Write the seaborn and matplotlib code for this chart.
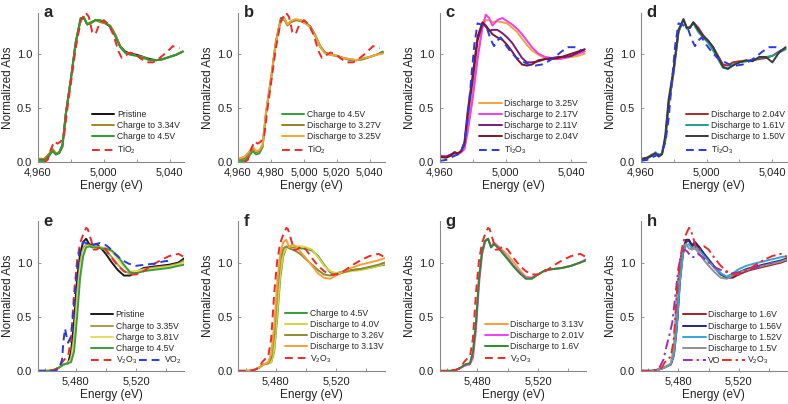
import numpy as np
import pandas as pd
import seaborn as sns
import matplotlib.pyplot as plt
from matplotlib.ticker import FuncFormatter, MultipleLocator

# ---- Ti K-edge (top row) ----
E_TI = [4960, 4964, 4967, 4969, 4971, 4973, 4975, 4977, 4980, 4983, 4986, 4988, 4990, 4992, 4995,
        4998, 5001, 5004, 5007, 5010, 5013, 5016, 5020, 5024, 5028, 5032, 5036, 5040, 5044, 5048]

a_pristine = [0.02, 0.02, 0.07, 0.11, 0.07, 0.09, 0.16, 0.45, 0.76, 1.10, 1.32, 1.33, 1.27, 1.28, 1.31,
              1.30, 1.28, 1.25, 1.17, 1.07, 1.02, 1.00, 0.99, 0.97, 0.95, 0.94, 0.95, 0.97, 0.99, 1.02]
a_334 = [0.03, 0.03, 0.08, 0.12, 0.08, 0.09, 0.15, 0.44, 0.75, 1.09, 1.31, 1.34, 1.27, 1.28, 1.31,
         1.29, 1.28, 1.26, 1.18, 1.07, 1.01, 1.00, 0.98, 0.97, 0.94, 0.94, 0.95, 0.97, 0.99, 1.02]
a_45 = [0.01, 0.01, 0.06, 0.10, 0.07, 0.08, 0.14, 0.44, 0.76, 1.11, 1.33, 1.33, 1.27, 1.29, 1.31,
        1.31, 1.29, 1.25, 1.16, 1.06, 1.01, 0.99, 0.98, 0.96, 0.94, 0.94, 0.95, 0.97, 0.99, 1.02]

b_327 = [0.02, 0.03, 0.09, 0.12, 0.09, 0.10, 0.16, 0.45, 0.76, 1.10, 1.30, 1.32, 1.26, 1.29, 1.31,
         1.30, 1.28, 1.25, 1.17, 1.07, 1.01, 0.99, 0.98, 0.96, 0.95, 0.94, 0.95, 0.97, 0.99, 1.01]
b_325 = [0.03, 0.05, 0.10, 0.14, 0.10, 0.11, 0.16, 0.46, 0.76, 1.10, 1.31, 1.33, 1.27, 1.30, 1.32,
         1.31, 1.28, 1.24, 1.16, 1.06, 1.00, 0.99, 0.98, 0.96, 0.95, 0.94, 0.96, 0.97, 0.99, 1.00]

c_325 = [0.04, 0.04, 0.06, 0.08, 0.08, 0.09, 0.12, 0.30, 0.62, 0.98, 1.25, 1.31, 1.31, 1.29, 1.30,
         1.29, 1.28, 1.24, 1.20, 1.14, 1.08, 1.03, 0.99, 0.96, 0.95, 0.95, 0.96, 0.97, 0.98, 1.00]
c_217 = [0.06, 0.05, 0.07, 0.08, 0.07, 0.09, 0.12, 0.28, 0.58, 0.95, 1.25, 1.36, 1.33, 1.26, 1.31,
         1.33, 1.30, 1.27, 1.23, 1.18, 1.12, 1.06, 1.00, 0.97, 0.96, 0.95, 0.96, 0.98, 1.00, 1.02]
c_211 = [0.05, 0.05, 0.07, 0.09, 0.08, 0.10, 0.16, 0.42, 0.75, 1.12, 1.28, 1.25, 1.21, 1.22, 1.22,
         1.19, 1.15, 1.10, 1.03, 0.96, 0.92, 0.92, 0.93, 0.95, 0.96, 0.97, 0.97, 0.98, 1.01, 1.04]
c_204 = [0.05, 0.04, 0.06, 0.09, 0.08, 0.10, 0.18, 0.47, 0.80, 1.16, 1.29, 1.26, 1.22, 1.18, 1.15,
         1.13, 1.08, 1.02, 0.95, 0.90, 0.89, 0.90, 0.94, 0.95, 0.95, 0.96, 0.98, 1.00, 1.02, 1.04]

d_204 = [0.03, 0.04, 0.07, 0.08, 0.06, 0.08, 0.20, 0.52, 0.82, 1.20, 1.31, 1.24, 1.24, 1.29, 1.24,
         1.17, 1.12, 1.06, 0.98, 0.90, 0.89, 0.92, 0.93, 0.93, 0.94, 0.95, 0.96, 0.98, 1.02, 1.05]
d_161 = [0.02, 0.03, 0.06, 0.09, 0.06, 0.08, 0.22, 0.55, 0.84, 1.21, 1.31, 1.23, 1.25, 1.28, 1.20,
         1.15, 1.10, 1.03, 0.95, 0.87, 0.86, 0.90, 0.92, 0.93, 0.94, 0.96, 0.97, 0.98, 1.01, 1.04]
d_150 = [0.02, 0.04, 0.06, 0.08, 0.05, 0.07, 0.25, 0.58, 0.86, 1.22, 1.32, 1.24, 1.24, 1.29, 1.22,
         1.16, 1.12, 1.06, 0.97, 0.88, 0.86, 0.89, 0.92, 0.94, 0.93, 0.97, 0.97, 0.92, 1.01, 1.06]

E_TIO2 = [4964, 4966, 4968, 4970, 4972, 4974, 4976, 4978, 4980, 4983, 4986, 4989, 4991, 4993, 4995, 4997,
          5000, 5003, 5006, 5009, 5011, 5013, 5016, 5019, 5022, 5026, 5030, 5034, 5038, 5042, 5046]
Y_TIO2 = [0.00, 0.02, 0.12, 0.19, 0.17, 0.19, 0.25, 0.50, 0.72, 1.05, 1.30, 1.38, 1.34, 1.20, 1.18, 1.26,
          1.31, 1.27, 1.17, 1.02, 0.96, 0.98, 1.01, 1.00, 0.96, 0.92, 0.92, 0.96, 1.01, 1.07, 1.05]

E_TI2O3 = [4960, 4964, 4968, 4971, 4973, 4975, 4977, 4979, 4981, 4983, 4985, 4987, 4989, 4991, 4993,
           4995, 4997, 5000, 5003, 5006, 5010, 5014, 5018, 5022, 5026, 5030, 5034, 5038, 5042, 5046]
Y_TI2O3 = [0.01, 0.02, 0.05, 0.07, 0.10, 0.18, 0.40, 0.75, 1.08, 1.28, 1.27, 1.25, 1.22, 1.13, 1.07,
           1.12, 1.15, 1.08, 1.02, 0.97, 0.93, 0.90, 0.89, 0.90, 0.93, 0.97, 1.02, 1.06, 1.06, 1.03]

# ---- V K-edge (bottom row) ----
E_V = [5455, 5462, 5466, 5469, 5472, 5475, 5477, 5479, 5481, 5483, 5485, 5487, 5489, 5491,
       5494, 5497, 5500, 5504, 5508, 5512, 5516, 5520, 5525, 5530, 5536, 5542, 5548, 5552]

e_pristine = [0.00, 0.00, 0.01, 0.03, 0.06, 0.07, 0.18, 0.45, 0.85, 1.08, 1.19, 1.22, 1.17, 1.16,
              1.17, 1.13, 1.08, 1.00, 0.93, 0.88, 0.88, 0.91, 0.95, 0.96, 0.97, 0.98, 1.00, 1.04]
e_335 = [0.00, 0.00, 0.01, 0.03, 0.06, 0.07, 0.12, 0.32, 0.72, 1.00, 1.13, 1.17, 1.16, 1.15,
         1.15, 1.14, 1.11, 1.05, 0.98, 0.92, 0.90, 0.92, 0.94, 0.95, 0.96, 0.97, 0.99, 1.02]
e_381 = [0.00, 0.00, 0.01, 0.03, 0.06, 0.07, 0.10, 0.26, 0.62, 0.94, 1.10, 1.15, 1.15, 1.14,
         1.14, 1.14, 1.13, 1.10, 1.03, 0.96, 0.92, 0.92, 0.93, 0.94, 0.95, 0.96, 0.98, 1.00]
e_45 = [0.00, 0.00, 0.01, 0.03, 0.06, 0.07, 0.08, 0.18, 0.50, 0.86, 1.06, 1.14, 1.15, 1.14,
        1.14, 1.13, 1.13, 1.11, 1.06, 0.98, 0.91, 0.90, 0.92, 0.93, 0.94, 0.95, 0.97, 0.98]

f_40 = [0.00, 0.00, 0.01, 0.03, 0.06, 0.07, 0.08, 0.20, 0.55, 0.90, 1.08, 1.14, 1.15, 1.15,
        1.15, 1.15, 1.14, 1.12, 1.05, 0.97, 0.92, 0.90, 0.91, 0.92, 0.93, 0.95, 0.97, 0.99]
f_326 = [0.00, 0.00, 0.01, 0.03, 0.06, 0.07, 0.12, 0.34, 0.74, 1.02, 1.13, 1.15, 1.13, 1.12,
         1.10, 1.07, 1.03, 0.98, 0.93, 0.89, 0.88, 0.89, 0.91, 0.93, 0.94, 0.96, 0.98, 1.00]
f_313 = [0.00, 0.00, 0.01, 0.03, 0.06, 0.08, 0.16, 0.42, 0.82, 1.08, 1.19, 1.21, 1.14, 1.17,
         1.14, 1.09, 1.04, 0.97, 0.90, 0.86, 0.85, 0.88, 0.92, 0.95, 0.98, 1.00, 1.02, 1.04]

g_313 = [0.00, 0.00, 0.01, 0.03, 0.06, 0.07, 0.18, 0.45, 0.86, 1.10, 1.20, 1.22, 1.15, 1.18,
         1.15, 1.11, 1.07, 1.00, 0.93, 0.87, 0.86, 0.89, 0.93, 0.94, 0.95, 0.97, 1.00, 1.03]
g_201 = [0.00, 0.00, 0.01, 0.03, 0.05, 0.06, 0.12, 0.38, 0.80, 1.07, 1.19, 1.22, 1.14, 1.18,
         1.14, 1.09, 1.04, 0.97, 0.91, 0.86, 0.86, 0.89, 0.93, 0.94, 0.95, 0.97, 1.00, 1.03]
g_16 = [0.00, 0.00, 0.01, 0.03, 0.06, 0.07, 0.17, 0.44, 0.85, 1.10, 1.20, 1.22, 1.14, 1.17,
        1.13, 1.08, 1.03, 0.96, 0.90, 0.85, 0.85, 0.89, 0.93, 0.94, 0.95, 0.97, 1.00, 1.02]

h_16 = [0.00, 0.00, 0.01, 0.02, 0.04, 0.06, 0.14, 0.40, 0.82, 1.08, 1.19, 1.20, 1.15, 1.17,
        1.13, 1.08, 1.03, 0.96, 0.90, 0.86, 0.86, 0.89, 0.92, 0.94, 0.96, 0.98, 1.00, 1.02]
h_156 = [0.00, 0.00, 0.01, 0.02, 0.04, 0.06, 0.16, 0.44, 0.86, 1.11, 1.21, 1.21, 1.16, 1.19,
         1.14, 1.08, 1.02, 0.95, 0.89, 0.86, 0.87, 0.91, 0.94, 0.96, 0.98, 1.00, 1.02, 1.04]
h_152 = [0.00, 0.00, 0.01, 0.02, 0.04, 0.06, 0.15, 0.42, 0.83, 1.08, 1.16, 1.17, 1.13, 1.15,
         1.11, 1.06, 1.01, 0.95, 0.90, 0.87, 0.90, 0.94, 0.97, 0.99, 1.01, 1.03, 1.05, 1.06]
h_15 = [0.00, 0.00, 0.01, 0.02, 0.04, 0.07, 0.22, 0.70, 1.00, 1.15, 1.17, 1.13, 1.12, 1.13,
        1.08, 1.02, 0.97, 0.91, 0.86, 0.85, 0.88, 0.91, 0.93, 0.95, 0.97, 0.99, 1.01, 1.03]

E_V2O3 = [5455, 5462, 5466, 5469, 5471, 5473, 5475, 5477, 5479, 5481, 5483, 5485, 5487, 5488, 5490,
          5492, 5494, 5497, 5500, 5504, 5508, 5512, 5516, 5520, 5525, 5530, 5536, 5542, 5548, 5552]
Y_V2O3 = [0.00, 0.00, 0.01, 0.03, 0.08, 0.11, 0.13, 0.30, 0.72, 1.02, 1.18, 1.26, 1.32, 1.31, 1.22,
          1.12, 1.12, 1.15, 1.12, 1.04, 0.97, 0.92, 0.89, 0.89, 0.92, 0.97, 1.02, 1.06, 1.08, 1.05]

E_VO2 = [5455, 5466, 5469, 5471, 5472, 5473, 5474, 5475, 5477, 5479, 5481, 5483, 5485, 5487,
         5490, 5493, 5496, 5499, 5502, 5506, 5510, 5515, 5520, 5526, 5532, 5538, 5544]
Y_VO2 = [0.00, 0.00, 0.02, 0.10, 0.28, 0.39, 0.32, 0.26, 0.32, 0.62, 0.95, 1.13, 1.19, 1.18,
         1.16, 1.17, 1.18, 1.17, 1.14, 1.08, 1.03, 0.99, 0.97, 0.98, 0.99, 1.01, 1.02]

E_VO = [5455, 5464, 5467, 5470, 5472, 5474, 5476, 5478, 5480, 5482, 5484, 5486, 5488,
        5490, 5493, 5496, 5500, 5505, 5510, 5515, 5520, 5525, 5530, 5536, 5542]
Y_VO = [0.00, 0.00, 0.02, 0.10, 0.22, 0.33, 0.45, 0.70, 0.95, 1.08, 1.12, 1.10, 1.06,
        1.05, 1.08, 1.05, 1.00, 0.95, 0.92, 0.90, 0.91, 0.93, 0.95, 0.98, 1.00]

# ---- styling ----
sns.set_theme(style="ticks")
plt.rcParams["font.family"] = ["Liberation Sans", "DejaVu Sans"]
plt.rcParams["mathtext.default"] = "regular"

DASH = (0, (4, 2.5))
DASHDOT = (0, (5, 2, 1.2, 2))
RED = "#ec2a2a"
BLUE = "#2a3ae0"
LW = 1.4

fig = plt.figure(figsize=(7.88, 4.04), dpi=100)
lefts = [0.048, 0.302, 0.558, 0.813]
W = 0.186
axes = []
for row, bottom in enumerate([0.599, 0.082]):
    for col in range(4):
        axes.append(fig.add_axes([lefts[col], bottom, W, 0.37]))

comma = FuncFormatter(lambda v, p: f"{int(v):,}")


def draw(ax, x, y, color, label, ls="-", lw=LW):
    sns.lineplot(x=x, y=y, ax=ax, color=color, label=label, linestyle=ls, lw=lw,
                 sort=False, estimator=None)


# panel a
ax = axes[0]
draw(ax, E_TI, a_pristine, "#111111", "Pristine")
draw(ax, E_TI, a_334, "#a08a1e", "Charge to 3.34V")
draw(ax, E_TI, a_45, "#2f9a2f", "Charge to 4.5V")
draw(ax, E_TIO2, Y_TIO2, RED, "TiO$_2$", DASH)

# panel b
ax = axes[1]
draw(ax, E_TI, a_45, "#3a9a3a", "Charge to 4.5V")
draw(ax, E_TI, b_327, "#8c8426", "Discharge to 3.27V")
draw(ax, E_TI, b_325, "#f2a436", "Discharge to 3.25V")
draw(ax, E_TIO2, Y_TIO2, RED, "TiO$_2$", DASH)

# panel c
ax = axes[2]
draw(ax, E_TI, c_325, "#f5a23c", "Discharge to 3.25V")
draw(ax, E_TI, c_217, "#f23cf0", "Discharge to 2.17V")
draw(ax, E_TI, c_211, "#7a1a7a", "Discharge to 2.11V")
draw(ax, E_TI, c_204, "#7a1a28", "Discharge to 2.04V")
draw(ax, E_TI2O3, Y_TI2O3, BLUE, "Ti$_2$O$_3$", DASH)

# panel d
ax = axes[3]
draw(ax, E_TI, d_204, "#a82a2a", "Discharge to 2.04V")
draw(ax, E_TI, d_161, "#1fa08e", "Discharge to 1.61V")
draw(ax, E_TI, d_150, "#3a3a3a", "Discharge to 1.50V")
draw(ax, E_TI2O3, Y_TI2O3, BLUE, "Ti$_2$O$_3$", DASH)

# panel e
ax = axes[4]
draw(ax, E_V, e_pristine, "#1a1a1a", "Pristine")
draw(ax, E_V, e_335, "#a89c48", "Charge to 3.35V")
draw(ax, E_V, e_381, "#e6dc64", "Charge to 3.81V")
draw(ax, E_V, e_45, "#3a9e3a", "Charge to 4.5V")
draw(ax, E_V2O3, Y_V2O3, RED, "V$_2$O$_3$", DASH)
draw(ax, E_VO2, Y_VO2, BLUE, "VO$_2$", DASH)

# panel f
ax = axes[5]
draw(ax, E_V, e_45, "#3a9a3a", "Charge to 4.5V")
draw(ax, E_V, f_40, "#d2d640", "Discharge to 4.0V")
draw(ax, E_V, f_326, "#8a8a30", "Discharge to 3.26V")
draw(ax, E_V, f_313, "#f5a03a", "Discharge to 3.13V")
draw(ax, E_V2O3, Y_V2O3, RED, "V$_2$O$_3$", DASH)

# panel g
ax = axes[6]
draw(ax, E_V, g_313, "#f5a03a", "Discharge to 3.13V")
draw(ax, E_V, g_201, "#f040f0", "Discharge to 2.01V")
draw(ax, E_V, g_16, "#2e8a2e", "Discharge to 1.6V")
draw(ax, E_V2O3, Y_V2O3, RED, "V$_2$O$_3$", DASH)

# panel h
ax = axes[7]
draw(ax, E_V, h_16, "#a0202e", "Discharge to 1.6V")
draw(ax, E_V, h_156, "#22287e", "Discharge to 1.56V")
draw(ax, E_V, h_152, "#36a4d8", "Discharge to 1.52V")
draw(ax, E_V, h_15, "#929292", "Discharge to 1.5V")
draw(ax, E_VO, Y_VO, "#9a30b0", "VO", DASHDOT)
draw(ax, E_V2O3, Y_V2O3, RED, "V$_2$O$_3$", DASHDOT)

letters = "abcdefgh"
leg_x = [0.37, 0.30, 0.27, 0.31, 0.36, 0.32, 0.31, 0.29]
for i, ax in enumerate(axes):
    top = i < 4
    ax.set_ylim(0, 1.38)
    if top:
        ax.set_xlim(4960, 5049)
        ax.xaxis.set_major_locator(MultipleLocator(20 if i == 1 else 40))
        ax.xaxis.set_minor_locator(MultipleLocator(20))
    else:
        ax.set_xlim(5455, 5552)
        ax.xaxis.set_major_locator(MultipleLocator(40))
        ax.xaxis.set_minor_locator(MultipleLocator(20))
    ax.xaxis.set_major_formatter(comma)
    ax.set_yticks([0, 0.5, 1.0])
    ax.set_yticklabels(["0.0", "0.5", "1.0"])
    ax.tick_params(axis="both", which="both", direction="in", length=2, width=0.6,
                   color="#888888", labelsize=8, labelcolor="#222222")
    ax.tick_params(axis="x", pad=4)
    ax.tick_params(axis="y", pad=4)
    for s in ["top", "right"]:
        ax.spines[s].set_visible(False)
    for s in ["left", "bottom"]:
        ax.spines[s].set_color("#888888")
        ax.spines[s].set_linewidth(0.8)
    ax.set_xlabel("Energy (eV)", fontsize=8.5, labelpad=2, color="#222222")
    ax.set_ylabel("Normalized Abs", fontsize=8.5, labelpad=2, color="#222222")
    ax.text(0.04, 1.05, letters[i], transform=ax.transAxes, fontsize=12,
            fontweight="bold", va="top", ha="left")

    handles, labels = ax.get_legend_handles_labels()
    ax.get_legend().remove()
    kw = dict(frameon=False, fontsize=6.2, handlelength=2.6, handletextpad=0.3,
              labelspacing=0.25, borderpad=0, borderaxespad=0)
    if i in (4, 7):
        lg1 = ax.legend(handles[:4], labels[:4], loc="lower left",
                        bbox_to_anchor=(leg_x[i], 0.12), **kw)
        ax.add_artist(lg1)
        ax.legend(handles[4:], labels[4:], loc="lower left", ncol=2, columnspacing=0.2,
                  bbox_to_anchor=(leg_x[i], 0.03), **kw)
    else:
        ax.legend(handles, labels, loc="lower left", bbox_to_anchor=(leg_x[i], 0.04), **kw)

fig.savefig("out.png", dpi=100)
